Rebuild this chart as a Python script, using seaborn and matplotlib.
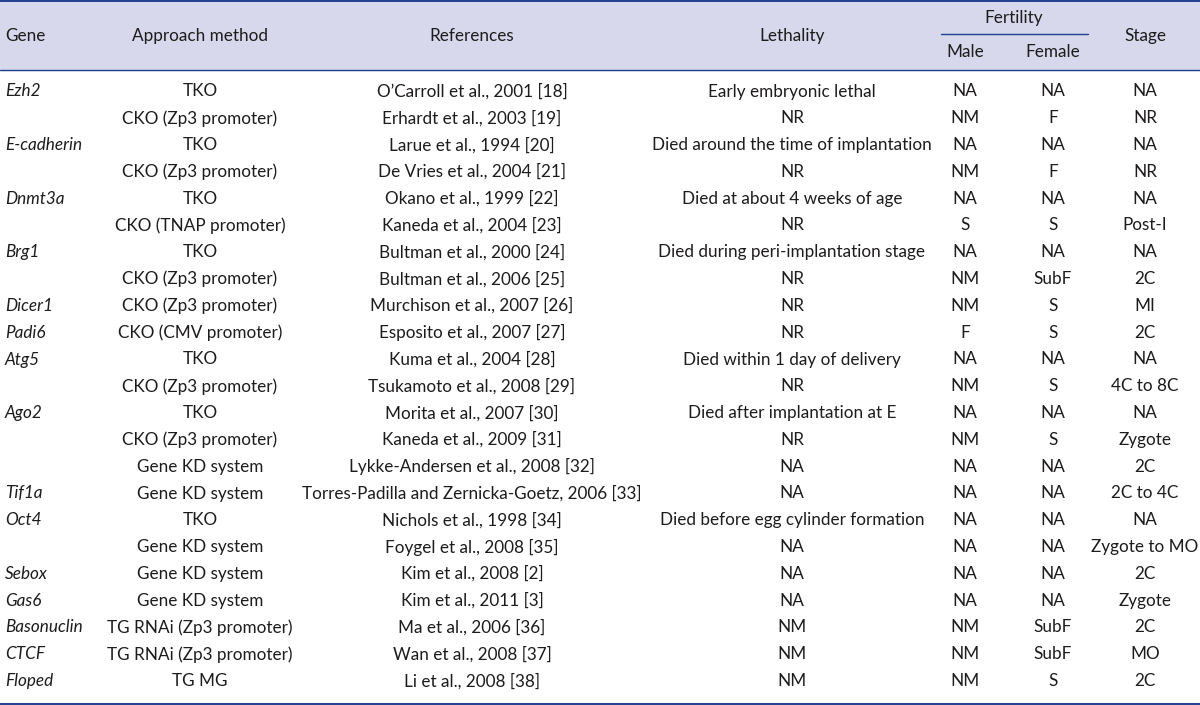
import numpy as np
import pandas as pd
import matplotlib
matplotlib.use("Agg")
import matplotlib.pyplot as plt
import seaborn as sns

# ====================== 表格数据 ======================
genes = ["Ezh2", "", "E-cadherin", "", "Dnmt3a", "", "Brg1", "", "Dicer1", "Padi6",
         "Atg5", "", "Ago2", "", "", "Tif1a", "Oct4", "", "Sebox", "Gas6",
         "Basonuclin", "CTCF", "Floped"]
methods = ["TKO", "CKO (Zp3 promoter)", "TKO", "CKO (Zp3 promoter)", "TKO",
           "CKO (TNAP promoter)", "TKO", "CKO (Zp3 promoter)", "CKO (Zp3 promoter)",
           "CKO (CMV promoter)", "TKO", "CKO (Zp3 promoter)", "TKO", "CKO (Zp3 promoter)",
           "Gene KD system", "Gene KD system", "TKO", "Gene KD system", "Gene KD system",
           "Gene KD system", "TG RNAi (Zp3 promoter)", "TG RNAi (Zp3 promoter)", "TG MG"]
references = ["O\u2019Carroll et al., 2001 [18]", "Erhardt et al., 2003 [19]",
              "Larue et al., 1994 [20]", "De Vries et al., 2004 [21]",
              "Okano et al., 1999 [22]", "Kaneda et al., 2004 [23]",
              "Bultman et al., 2000 [24]", "Bultman et al., 2006 [25]",
              "Murchison et al., 2007 [26]", "Esposito et al., 2007 [27]",
              "Kuma et al., 2004 [28]", "Tsukamoto et al., 2008 [29]",
              "Morita et al., 2007 [30]", "Kaneda et al., 2009 [31]",
              "Lykke-Andersen et al., 2008 [32]",
              "Torres-Padilla and Zernicka-Goetz, 2006 [33]",
              "Nichols et al., 1998 [34]", "Foygel et al., 2008 [35]",
              "Kim et al., 2008 [2]", "Kim et al., 2011 [3]",
              "Ma et al., 2006 [36]", "Wan et al., 2008 [37]", "Li et al., 2008 [38]"]
lethality = ["Early embryonic lethal", "NR", "Died around the time of implantation", "NR",
             "Died at about 4 weeks of age", "NR", "Died during peri-implantation stage",
             "NR", "NR", "NR", "Died within 1 day of delivery", "NR",
             "Died after implantation at E", "NR", "NA", "NA",
             "Died before egg cylinder formation", "NA", "NA", "NA", "NM", "NM", "NM"]
male = ["NA", "NM", "NA", "NM", "NA", "S", "NA", "NM", "NM", "F", "NA", "NM", "NA",
        "NM", "NA", "NA", "NA", "NA", "NA", "NA", "NM", "NM", "NM"]
female = ["NA", "F", "NA", "F", "NA", "S", "NA", "SubF", "S", "S", "NA", "S", "NA",
          "S", "NA", "NA", "NA", "NA", "NA", "NA", "SubF", "SubF", "S"]
stage = ["NA", "NR", "NA", "NR", "NA", "Post-I", "NA", "2C", "MI", "2C", "NA",
         "4C to 8C", "NA", "Zygote", "2C", "2C to 4C", "NA", "Zygote to MO", "2C",
         "Zygote", "2C", "MO", "2C"]

table = pd.DataFrame({"Gene": genes, "Approach method": methods, "References": references,
                      "Lethality": lethality, "Male": male, "Female": female,
                      "Stage": stage})

# ====================== 样式 ======================
sns.set_theme(style="white")
plt.rcParams["font.family"] = ["Lato", "DejaVu Sans"]

TEXT = "#1e1b1c"
LINE = "#1f3f8f"
HEAD_BG = "#d7d8ec"
FS = 12.3

fig = plt.figure(figsize=(12, 7.05), dpi=100)
ax = fig.add_axes([0, 0, 1, 1])
ax.set_xlim(0, 1200)
ax.set_ylim(705, 0)
ax.axis("off")

# 表头背景与横线
ax.axhspan(1, 70, color=HEAD_BG, zorder=0)
ax.axhline(1, color=LINE, lw=1.4)
ax.axhline(70, color=LINE, lw=1.0)
ax.axhline(703.5, color=LINE, lw=1.4)
ax.plot([941, 1088], [34, 34], color=LINE, lw=1.0)

# 列中心位置
col_x = {"Approach method": 200, "References": 472, "Lethality": 792,
         "Male": 965, "Female": 1053, "Stage": 1145}

ax.text(5, 36, "Gene", ha="left", va="center", fontsize=FS, color=TEXT)
for col in ["Approach method", "References", "Lethality"]:
    ax.text(col_x[col], 36, col, ha="center", va="center", fontsize=FS, color=TEXT)
ax.text(col_x["Stage"], 36, "Stage", ha="center", va="center", fontsize=FS, color=TEXT)
ax.text(1014, 18, "Fertility", ha="center", va="center", fontsize=FS, color=TEXT)
ax.text(col_x["Male"], 52, "Male", ha="center", va="center", fontsize=FS, color=TEXT)
ax.text(col_x["Female"], 52, "Female", ha="center", va="center", fontsize=FS, color=TEXT)

# 表体
y0, dy = 91.5, 26.8
for i, row in table.iterrows():
    y = y0 + i * dy
    if row["Gene"]:
        ax.text(5, y, row["Gene"], ha="left", va="center", fontsize=FS,
                color=TEXT, style="italic")
    for col, x in col_x.items():
        ax.text(x, y, row[col], ha="center", va="center", fontsize=FS, color=TEXT)

plt.savefig("out.png", dpi=100)
plt.close()
